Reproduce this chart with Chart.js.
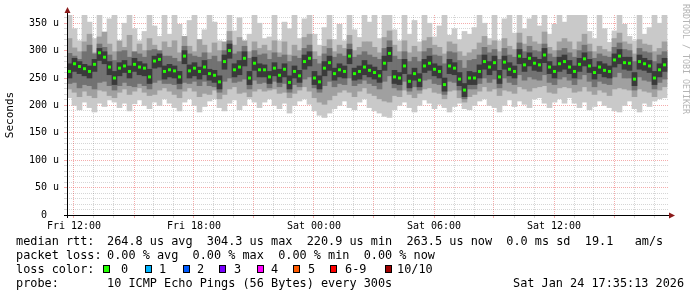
<!DOCTYPE html>
<html lang="en">
<head>
<meta charset="UTF-8" />
<title>Smokeping RTT</title>
<script src="https://cdn.jsdelivr.net/npm/chart.js"></script>
<style>
  html, body { margin: 0; padding: 0; background: #fff; }
  body {
    width: 697px; height: 297px; position: relative; overflow: hidden;
    font-family: "DejaVu Sans Mono", monospace; color: #000;
  }
  .chart-box { position: absolute; left: 0; top: 0; width: 697px; height: 240px; }
  .credit {
    position: absolute; left: 681px; top: 4px; writing-mode: vertical-rl;
    font-size: 8.3px; color: #b4b4b4; white-space: pre;
  }
  .leg { position: absolute; font-size: 11.85px; line-height: 14px; white-space: pre; }
  .box { position: absolute; width: 7px; height: 8px; border: 1px solid #000; box-sizing: border-box; }
</style>
</head>
<body>
<div class="chart-box"><canvas id="rtt"></canvas></div>
<div class="credit">RRDTOOL / TOBI OETIKER</div>
<div id="legend"></div>

<script>
// time axis: hours since Fri 00:00, one bin = 15 min
const startHour = 11.65;
const stepHours = 0.25;
const tickHours = [12, 18, 24, 30, 36];
const tickLabels = ["Fri 12:00", "Fri 18:00", "Sat 00:00", "Sat 06:00", "Sat 12:00"];

// median rtt (us)
const median = [
  262, 276, 271, 267, 262, 275, 296, 288, 270, 250, 268, 272, 262, 275, 270, 268, 252, 281, 284, 262,
  265, 263, 252, 290, 263, 268, 262, 270, 258, 255, 243, 280, 300, 265, 270, 286, 250, 277, 265, 265,
  252, 268, 255, 266, 242, 262, 254, 280, 286, 250, 243, 268, 278, 258, 265, 262, 290, 258, 262, 270,
  264, 260, 254, 277, 295, 252, 250, 272, 244, 258, 246, 272, 277, 266, 262, 238, 272, 268, 248, 228,
  250, 250, 262, 280, 270, 278, 252, 279, 266, 262, 290, 274, 286, 277, 274, 292, 270, 262, 276, 280,
  270, 262, 275, 285, 272, 260, 270, 264, 262, 283, 290, 278, 277, 248, 280, 276, 272, 250, 265, 274
];

// smoke, outermost (lightest) band
const outerHi = [
  365, 340, 318, 365, 352, 322, 365, 330, 358, 365, 312, 350, 365, 340, 318, 335, 365, 345, 326, 365,
  330, 365, 348, 318, 355, 365, 320, 338, 365, 352, 318, 312, 365, 336, 360, 315, 330, 365, 350, 322,
  325, 365, 318, 352, 340, 365, 322, 358, 365, 330, 310, 342, 365, 320, 348, 318, 365, 338, 324, 365,
  352, 365, 322, 365, 365, 338, 318, 365, 330, 355, 316, 365, 350, 325, 345, 365, 328, 340, 320, 335,
  330, 342, 365, 350, 322, 365, 318, 358, 365, 332, 365, 340, 358, 365, 345, 365, 330, 348, 365, 352,
  365, 365, 365, 365, 335, 322, 365, 340, 315, 336, 365, 348, 326, 318, 365, 330, 342, 365, 350, 365
];
const outerLo = [
  214, 200, 192, 206, 196, 188, 204, 198, 210, 206, 196, 204, 190, 203, 210, 200, 194, 206, 200, 212,
  204, 196, 190, 206, 212, 200, 188, 198, 208, 212, 196, 190, 204, 210, 192, 200, 212, 206, 196, 206,
  212, 200, 194, 204, 186, 200, 208, 212, 202, 190, 182, 178, 186, 194, 200, 208, 196, 192, 206, 212,
  196, 190, 186, 180, 178, 192, 200, 206, 196, 188, 200, 210, 204, 194, 202, 196, 188, 198, 204, 194,
  192, 200, 208, 212, 200, 196, 188, 200, 210, 198, 208, 202, 196, 212, 214, 204, 196, 206, 212, 204,
  214, 204, 196, 206, 192, 198, 208, 200, 196, 190, 188, 200, 208, 194, 188, 204, 198, 208, 212, 214
];

// smoke, light-mid band
const mid1Hi = [
  322, 305, 298, 316, 330, 296, 325, 334, 312, 298, 318, 306, 328, 296, 312, 300, 322, 310, 298, 316,
  306, 318, 296, 326, 308, 298, 320, 310, 296, 314, 300, 316, 335, 310, 324, 318, 298, 316, 304, 310,
  300, 318, 296, 316, 292, 310, 300, 324, 330, 298, 290, 308, 320, 298, 310, 304, 328, 300, 306, 316,
  316, 306, 296, 324, 336, 310, 298, 318, 296, 308, 298, 318, 324, 310, 306, 294, 316, 312, 298, 290,
  296, 302, 314, 326, 310, 318, 298, 322, 308, 302, 332, 312, 326, 316, 312, 334, 306, 300, 316, 322,
  316, 302, 316, 330, 312, 298, 308, 302, 298, 322, 332, 316, 312, 294, 320, 312, 310, 298, 304, 316
];
const mid1Lo = [
  230, 224, 216, 226, 218, 214, 228, 226, 218, 214, 224, 230, 220, 226, 232, 224, 218, 220, 228, 232,
  226, 220, 214, 226, 232, 226, 216, 222, 220, 228, 212, 220, 230, 234, 222, 224, 216, 226, 230, 226,
  228, 230, 222, 224, 214, 222, 228, 234, 226, 214, 206, 202, 210, 218, 224, 228, 224, 216, 226, 232,
  222, 218, 212, 208, 206, 218, 216, 228, 220, 214, 222, 230, 232, 224, 222, 212, 226, 228, 214, 206,
  216, 220, 226, 234, 226, 230, 218, 228, 226, 222, 234, 230, 226, 232, 234, 236, 224, 222, 232, 234,
  232, 224, 226, 234, 226, 220, 228, 224, 218, 230, 232, 230, 228, 216, 230, 226, 224, 216, 228, 234
];

// smoke, dark-mid band
const mid2Hi = [
  295, 290, 284, 298, 310, 294, 312, 306, 292, 282, 298, 300, 288, 298, 294, 288, 300, 302, 300, 290,
  290, 286, 280, 308, 294, 290, 288, 296, 284, 290, 280, 300, 318, 294, 298, 308, 286, 300, 292, 294,
  284, 296, 288, 292, 280, 290, 286, 304, 310, 284, 276, 294, 304, 288, 294, 290, 312, 288, 292, 298,
  292, 288, 284, 304, 318, 290, 284, 298, 280, 288, 280, 298, 304, 292, 290, 276, 298, 296, 282, 268,
  282, 284, 292, 306, 296, 302, 284, 304, 292, 288, 314, 298, 308, 300, 298, 312, 294, 288, 300, 304,
  296, 288, 300, 310, 298, 286, 294, 290, 288, 306, 314, 302, 300, 280, 304, 298, 296, 280, 292, 298
];
const mid2Lo = [
  240, 242, 232, 238, 236, 230, 242, 244, 236, 228, 236, 242, 236, 234, 240, 236, 230, 242, 246, 240,
  240, 238, 230, 242, 240, 244, 236, 244, 236, 234, 224, 244, 250, 242, 244, 248, 230, 246, 240, 242,
  232, 244, 234, 240, 224, 238, 234, 248, 252, 232, 224, 236, 244, 234, 240, 238, 250, 236, 240, 246,
  240, 236, 230, 244, 254, 232, 228, 244, 226, 234, 228, 246, 248, 240, 238, 220, 244, 242, 228, 212,
  230, 230, 240, 250, 242, 248, 232, 250, 242, 238, 256, 246, 252, 248, 246, 256, 242, 238, 248, 252,
  246, 238, 248, 256, 244, 234, 244, 240, 238, 252, 260, 250, 250, 228, 252, 246, 244, 230, 242, 248
];

// smoke, dark core around the median
const coreHi = [
  276, 286, 280, 275, 272, 284, 304, 298, 280, 262, 278, 282, 272, 286, 280, 276, 266, 290, 294, 272,
  275, 272, 262, 300, 274, 278, 270, 282, 266, 264, 254, 292, 312, 276, 282, 298, 262, 288, 276, 274,
  262, 278, 266, 276, 254, 272, 264, 292, 298, 262, 254, 280, 290, 268, 276, 272, 302, 268, 272, 282,
  274, 270, 264, 290, 306, 264, 260, 284, 256, 268, 258, 284, 290, 276, 272, 250, 284, 278, 260, 240,
  262, 260, 274, 292, 280, 290, 264, 290, 278, 272, 302, 286, 296, 288, 284, 304, 280, 272, 288, 292,
  282, 272, 286, 296, 284, 270, 280, 276, 272, 294, 302, 288, 288, 260, 292, 286, 282, 262, 276, 286
];
const coreLo = [
  250, 262, 258, 254, 250, 262, 282, 276, 256, 238, 254, 260, 250, 262, 256, 254, 240, 268, 270, 248,
  252, 250, 240, 276, 250, 254, 248, 256, 246, 242, 230, 266, 286, 252, 256, 272, 238, 264, 252, 252,
  240, 254, 242, 252, 230, 250, 242, 266, 272, 238, 230, 254, 264, 246, 252, 250, 276, 246, 248, 256,
  252, 248, 242, 264, 280, 240, 238, 258, 232, 246, 234, 260, 264, 254, 250, 226, 258, 256, 236, 216,
  238, 238, 250, 266, 256, 264, 240, 266, 254, 250, 276, 262, 272, 264, 262, 278, 258, 250, 262, 266,
  258, 250, 262, 272, 260, 248, 258, 252, 250, 270, 276, 266, 264, 236, 266, 264, 260, 238, 252, 262
];

const lossLabels = ["0", "1", "2", "3", "4", "5", "6-9", "10/10"];
const lossColors = ["#22ff00", "#00b4ff", "#005aff", "#7800ff", "#ff00ff", "#ff5a00", "#ff0000", "#a00000"];

// legend text
const legendLines = [
  ["median rtt:", "264.8 us avg  304.3 us max  220.9 us min  263.5 us now  0.0 ms sd  19.1   am/s"],
  ["packet loss:", "0.00 % avg  0.00 % max  0.00 % min  0.00 % now"],
  ["loss color:", ""],
  ["probe:", "10 ICMP Echo Pings (56 Bytes) every 300s"]
];
const stamp = "Sat Jan 24 17:35:13 2026";

// ---- legend (html) ----
const legend = document.getElementById("legend");
function put(text, x, y, cls) {
  const el = document.createElement("div");
  el.className = cls;
  el.style.left = x + "px";
  el.style.top = y + "px";
  el.textContent = text;
  legend.appendChild(el);
  return el;
}
legendLines.forEach((ln, i) => {
  put(ln[0], 16, 234 + i * 14, "leg");
  if (ln[1]) put(ln[1], 107, 234 + i * 14, "leg");
});
put(stamp, 513, 234 + 3 * 14, "leg");
const boxX = [103, 145, 183, 219, 257, 293, 330, 385];
const labX = [121, 159, 197, 234, 271, 308, 345, 397];
lossLabels.forEach((lab, i) => {
  const b = put("", boxX[i], 265, "box");
  b.style.background = lossColors[i];
  put(lab, labX[i], 262, "leg");
});

// ---- chart ----
const binTime = (i) => startHour + (i + 0.5) * stepHours;
const band = (lo, hi) => lo.map((v, i) => ({ x: binTime(i), y: [v, hi[i]] }));

const axisArrows = {
  id: "axisArrows",
  afterDraw(chart) {
    const { ctx, chartArea: a } = chart;
    ctx.save();
    ctx.strokeStyle = "#000";
    ctx.lineWidth = 1;
    ctx.beginPath();
    ctx.moveTo(a.left + 0.5, a.bottom + 3);
    ctx.lineTo(a.left + 0.5, a.top - 6);
    ctx.moveTo(a.left - 3, a.bottom + 0.5);
    ctx.lineTo(a.right + 2, a.bottom + 0.5);
    ctx.stroke();
    ctx.fillStyle = "#8b1a1a";
    ctx.beginPath();
    ctx.moveTo(a.left + 0.5, a.top - 8);
    ctx.lineTo(a.left - 2.5, a.top - 2);
    ctx.lineTo(a.left + 3.5, a.top - 2);
    ctx.fill();
    ctx.beginPath();
    ctx.moveTo(a.right + 7, a.bottom + 0.5);
    ctx.lineTo(a.right + 1, a.bottom - 2.5);
    ctx.lineTo(a.right + 1, a.bottom + 3.5);
    ctx.fill();
    ctx.restore();
  }
};

const tickFont = { family: "DejaVu Sans Mono", size: 10 };
const gridColor = (major) => (c) =>
  c.tick && c.tick.value % major === 0 ? "rgba(235,90,90,0.5)" : "rgba(0,0,0,0.16)";

new Chart(document.getElementById("rtt"), {
  type: "bar",
  data: {
    datasets: [
      {
        type: "scatter",
        data: median.map((v, i) => ({ x: binTime(i), y: v })),
        pointStyle: "rect",
        pointRadius: 2.1,
        pointBorderWidth: 0,
        backgroundColor: lossColors[0],
        order: 0
      },
      { data: band(coreLo, coreHi), backgroundColor: "#3a3a3a", order: 1 },
      { data: band(mid2Lo, mid2Hi), backgroundColor: "#727272", order: 2 },
      { data: band(mid1Lo, mid1Hi), backgroundColor: "#a0a0a0", order: 3 },
      { data: band(outerLo, outerHi), backgroundColor: "#c9c9c9", order: 4 }
    ].map((d) => Object.assign({ grouped: false, barPercentage: 1, categoryPercentage: 1, borderWidth: 0 }, d))
  },
  options: {
    responsive: true,
    maintainAspectRatio: false,
    animation: false,
    layout: { padding: { top: 15, right: 29, left: 0, bottom: 0 } },
    plugins: { legend: { display: false }, tooltip: { enabled: false } },
    scales: {
      x: {
        type: "linear",
        min: startHour,
        max: 41.7,
        offset: false,
        afterFit: (s) => { s.height = 25; },
        border: { display: false, dash: [1, 1] },
        grid: { offset: false, tickLength: 3, color: gridColor(3) },
        ticks: {
          stepSize: 1,
          includeBounds: false,
          autoSkip: false,
          maxRotation: 0,
          padding: 2,
          color: "#000",
          font: tickFont,
          callback: (v) => {
            const k = tickHours.indexOf(v);
            return k >= 0 ? tickLabels[k] : "";
          }
        }
      },
      y: {
        min: 0,
        max: 365,
        afterFit: (s) => { s.width = 67; },
        border: { display: false, dash: [1, 1] },
        grid: { tickLength: 3, color: gridColor(50) },
        ticks: {
          stepSize: 10,
          includeBounds: false,
          autoSkip: false,
          padding: 5,
          color: "#000",
          font: tickFont,
          callback: (v) => (v % 50 === 0 ? (v === 0 ? "0  " : v + " u") : "")
        },
        title: {
          display: true,
          text: "Seconds",
          color: "#000",
          padding: { top: 4, bottom: 0 },
          font: { family: "DejaVu Sans Mono", size: 11 }
        }
      }
    }
  },
  plugins: [axisArrows]
});
</script>
</body>
</html>
